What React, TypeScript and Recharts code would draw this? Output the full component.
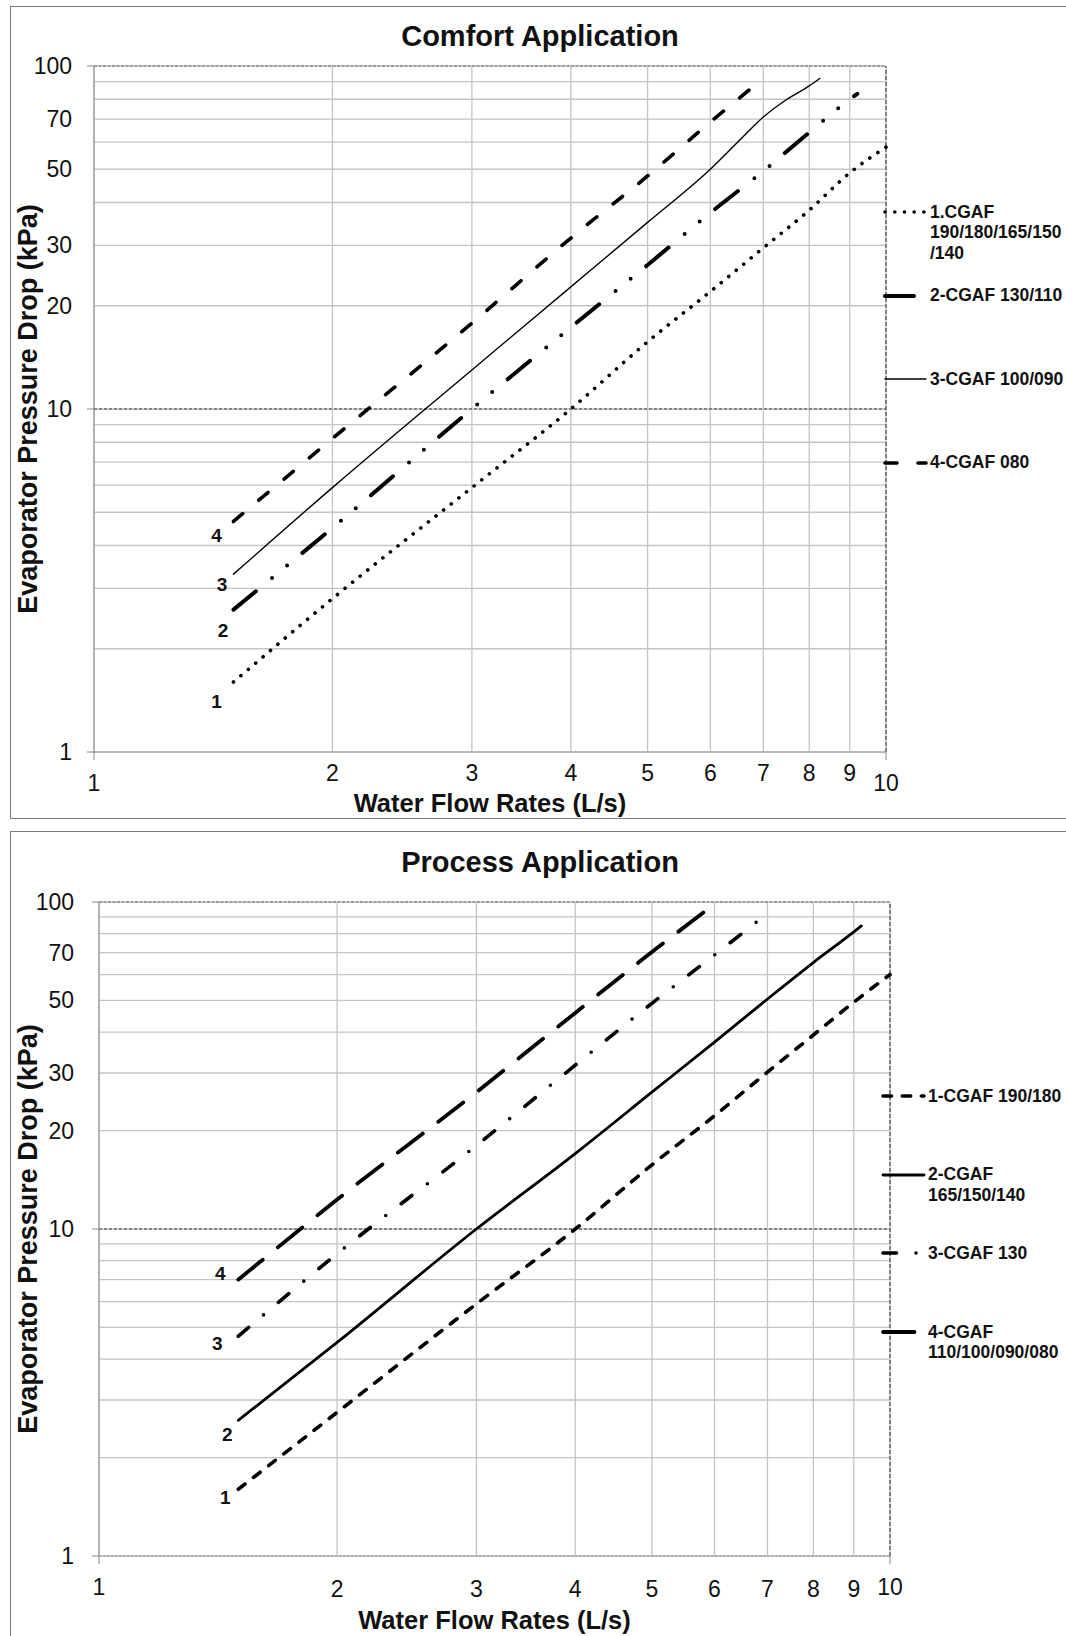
import React from "react";
import {
  LineChart,
  Line,
  XAxis,
  YAxis,
  CartesianGrid,
  ReferenceLine,
  Legend,
} from "recharts";

const FONT = '"Liberation Sans", Arial, sans-serif';

const flowTicks = [1, 2, 3, 4, 5, 6, 7, 8, 9, 10];
const dropTicks = [1, 2, 3, 4, 5, 6, 7, 8, 9, 10, 20, 30, 40, 50, 60, 70, 80, 90, 100];
const dropLabels = [1, 10, 20, 30, 50, 70, 100];

// Comfort application
const comfortFlow1 = [1.5, 2, 3, 4, 5, 6, 7, 8, 9, 10];
const comfortDrop1 = [1.6, 2.8, 5.9, 10, 15.7, 22, 29.5, 38, 48.8, 58];
const comfortFlow2 = [1.5, 2, 3, 4, 5, 6, 7, 8, 9, 9.2];
const comfortDrop2 = [2.6, 4.5, 10, 17.3, 26.3, 37.3, 49.4, 64, 80, 83];
const comfortFlow3 = [1.5, 2, 3, 4, 5, 6, 6.5, 7, 7.5, 8, 8.25];
const comfortDrop3 = [3.3, 5.9, 13, 22.7, 35, 50, 60, 71, 80, 87.5, 92];
const comfortFlow4 = [1.5, 2, 3, 4, 5, 6, 7];
const comfortDrop4 = [4.7, 8.2, 17.8, 31.5, 47.8, 68.6, 92];
const comfortNames = [
  "1.CGAF\n190/180/165/150\n/140",
  "2-CGAF 130/110",
  "3-CGAF 100/090",
  "4-CGAF 080",
];

// Process application
const processFlow1 = [1.5, 2, 3, 4, 5, 6, 7, 8, 9, 10];
const processDrop1 = [1.6, 2.75, 5.9, 10, 15.7, 22.2, 30.2, 39.2, 49.4, 60];
const processFlow2 = [1.5, 2, 3, 4, 5, 6, 7, 8, 9, 9.2];
const processDrop2 = [2.6, 4.5, 10, 17, 26.2, 37.3, 50.5, 65.3, 81, 84.5];
const processFlow3 = [1.5, 2, 3, 4, 5, 6, 6.95];
const processDrop3 = [4.7, 8.4, 18, 31.7, 49, 68.9, 91];
const processFlow4 = [1.5, 2, 3, 4, 5, 6.05];
const processDrop4 = [7, 12.3, 26.2, 45.8, 70.3, 100];
const processNames = [
  "1-CGAF 190/180",
  "2-CGAF\n165/150/140",
  "3-CGAF 130",
  "4-CGAF\n110/100/090/080",
];

interface Series {
  key: string;
  name: string;
  tag: string;
  data: { flow: number; drop: number }[];
  width: number;
  dash?: string;
  labelDx: number;
  labelDy: number;
}

const toPoints = (flow: number[], drop: number[]) =>
  flow.map((f, i) => ({ flow: f, drop: drop[i] }));

const comfortSeries: Series[] = [
  { key: "c1", name: comfortNames[0], tag: "1", data: toPoints(comfortFlow1, comfortDrop1), width: 3.6, dash: "0.1 9.6", labelDx: -17, labelDy: 20 },
  { key: "c2", name: comfortNames[1], tag: "2", data: toPoints(comfortFlow2, comfortDrop2), width: 4, dash: "29 21 0 19.5 0 20", labelDx: -10.5, labelDy: 21 },
  { key: "c3", name: comfortNames[2], tag: "3", data: toPoints(comfortFlow3, comfortDrop3), width: 1.4, labelDx: -11.5, labelDy: 10 },
  { key: "c4", name: comfortNames[3], tag: "4", data: toPoints(comfortFlow4, comfortDrop4), width: 3.6, dash: "12 21", labelDx: -17, labelDy: 14 },
];

const processSeries: Series[] = [
  { key: "p1", name: processNames[0], tag: "1", data: toPoints(processFlow1, processDrop1), width: 3.6, dash: "8.5 10.7", labelDx: -13, labelDy: 8 },
  { key: "p2", name: processNames[1], tag: "2", data: toPoints(processFlow2, processDrop2), width: 2.8, labelDx: -11, labelDy: 14 },
  { key: "p3", name: processNames[2], tag: "3", data: toPoints(processFlow3, processDrop3), width: 3.6, dash: "13.5 19.5 0 19.5", labelDx: -21, labelDy: 7 },
  { key: "p4", name: processNames[3], tag: "4", data: toPoints(processFlow4, processDrop4), width: 3.8, dash: "31.5 19.5", labelDx: -18, labelDy: -6 },
];

interface ChartSpec {
  title: string;
  titleY: number;
  top: number;
  height: number;
  margin: { top: number; right: number; bottom: number; left: number };
  yAxisWidth: number;
  yLabelGap: number;
  xMinorDy: number;
  xMajorDy: number;
  xTitleDy: number;
  legendLeft: number;
  legendTop: number;
  legendStep: number;
  series: Series[];
}

const DropTick = (props: any) => {
  const { x, y, payload, gap } = props;
  const v = payload.value;
  const axisX = x + gap;
  const major = v === 1 || v === 10 || v === 100;
  return (
    <g>
      {major && <line x1={axisX - 7} x2={axisX} y1={y} y2={y} stroke="#8a8a8a" strokeWidth={1} />}
      {dropLabels.includes(v) && (
        <text x={x} y={y} textAnchor="end" dominantBaseline="central" fontSize={23} fontFamily={FONT} fill="#111">
          {v}
        </text>
      )}
    </g>
  );
};

const FlowTick = (props: any) => {
  const { x, y, payload, minorDy, majorDy } = props;
  const v = payload.value;
  const major = v === 1 || v === 10;
  return (
    <g>
      {major && <line x1={x} x2={x} y1={y} y2={y + 8} stroke="#8a8a8a" strokeWidth={1} />}
      <text x={x} y={y + (major ? majorDy : minorDy)} textAnchor="middle" dominantBaseline="central" fontSize={23} fontFamily={FONT} fill="#111">
        {v}
      </text>
    </g>
  );
};

const LegendBlock = ({ series, step }: { series: Series[]; step: number }) => (
  <div style={{ position: "relative", width: 200, height: step * series.length }}>
    {series.map((s, i) => (
      <div key={s.key} style={{ position: "absolute", top: i * step, left: 0, display: "flex", alignItems: "flex-start" }}>
        <svg width={46} height={20} style={{ overflow: "visible", flex: "none" }}>
          <line x1={2} x2={43} y1={10} y2={10} stroke="#000" strokeWidth={s.width} strokeDasharray={s.dash} strokeLinecap="round" />
        </svg>
        <div style={{ marginLeft: 1, fontSize: 17.5, fontWeight: 700, lineHeight: "20.5px", whiteSpace: "pre", fontFamily: FONT, color: "#111", marginTop: -0.25 }}>
          {s.name}
        </div>
      </div>
    ))}
  </div>
);

const PressureChart = ({ spec }: { spec: ChartSpec }) => {
  const startLabel = (s: Series) => (p: any) =>
    p.index === 0 ? (
      <text key={`lbl-${s.key}`} x={p.cx + s.labelDx} y={p.cy + s.labelDy} textAnchor="middle" dominantBaseline="central" fontSize={19} fontWeight={700} fontFamily={FONT} fill="#111">
        {s.tag}
      </text>
    ) : (
      <g key={`dot-${s.key}-${p.index}`} />
    );

  return (
    <div style={{ position: "absolute", left: 0, top: spec.top, width: 1066, height: spec.height }}>
      <div style={{ position: "absolute", left: 0, top: spec.titleY - 17, width: 1080, textAlign: "center", fontFamily: FONT, fontWeight: 700, fontSize: 29, lineHeight: "34px", color: "#111" }}>
        {spec.title}
      </div>
      <LineChart width={1066} height={spec.height} margin={spec.margin}>
        <CartesianGrid stroke="#c4c4c4" strokeWidth={1.3} />
        <XAxis
          dataKey="flow"
          type="number"
          scale="log"
          domain={[1, 10]}
          ticks={flowTicks}
          interval={0}
          height={60}
          tickSize={0}
          tickMargin={0}
          tickLine={false}
          axisLine={{ stroke: "#8c8c8c", strokeDasharray: "3 1" }}
          tick={(p: any) => <FlowTick {...p} minorDy={spec.xMinorDy} majorDy={spec.xMajorDy} />}
          label={(p: any) => (
            <text x={p.viewBox.x + p.viewBox.width / 2} y={p.viewBox.y + spec.xTitleDy} textAnchor="middle" dominantBaseline="central" fontSize={25.5} fontWeight={700} fontFamily={FONT} fill="#111">
              Water Flow Rates (L/s)
            </text>
          )}
        />
        <YAxis
          dataKey="drop"
          type="number"
          scale="log"
          domain={[1, 100]}
          allowDataOverflow
          ticks={dropTicks}
          interval={0}
          width={spec.yAxisWidth}
          tickSize={0}
          tickMargin={spec.yLabelGap}
          tickLine={false}
          axisLine={{ stroke: "#8c8c8c" }}
          tick={(p: any) => <DropTick {...p} gap={spec.yLabelGap} />}
          label={(p: any) => {
            const cx = p.viewBox.x + 27.6;
            const cy = p.viewBox.y + p.viewBox.height / 2;
            return (
              <text x={cx} y={cy} transform={`rotate(-90, ${cx}, ${cy})`} textAnchor="middle" dominantBaseline="central" fontSize={27} fontWeight={700} fontFamily={FONT} fill="#111">
                Evaporator Pressure Drop (kPa)
              </text>
            );
          }}
        />
        <ReferenceLine y={100} stroke="#666" strokeDasharray="3 1.5" strokeWidth={1} />
        <ReferenceLine y={10} stroke="#333" strokeDasharray="3 2" strokeWidth={1} />
        <ReferenceLine x={10} stroke="#666" strokeDasharray="4 2" strokeWidth={1.5} />
        <Legend
          layout="vertical"
          align="center"
          verticalAlign="middle"
          wrapperStyle={{ left: spec.legendLeft, top: spec.legendTop, width: 200 }}
          content={() => <LegendBlock series={spec.series} step={spec.legendStep} />}
        />
        {spec.series.map((s) => (
          <Line
            key={s.key}
            data={s.data}
            dataKey="drop"
            name={s.name}
            type="monotone"
            stroke="#000"
            strokeWidth={s.width}
            strokeDasharray={s.dash}
            strokeLinecap="round"
            dot={startLabel(s)}
            activeDot={false}
            isAnimationActive={false}
          />
        ))}
      </LineChart>
    </div>
  );
};

const comfortSpec: ChartSpec = {
  title: "Comfort Application",
  titleY: 36,
  top: 0,
  height: 818,
  margin: { top: 66, right: 180, bottom: 6, left: 0 },
  yAxisWidth: 94,
  yLabelGap: 22,
  xMinorDy: 21,
  xMajorDy: 31,
  xTitleDy: 51,
  legendLeft: 883,
  legendTop: 202,
  legendStep: 83.5,
  series: comfortSeries,
};

const processSpec: ChartSpec = {
  title: "Process Application",
  titleY: 42,
  top: 820,
  height: 816,
  margin: { top: 82, right: 176, bottom: 20, left: 0 },
  yAxisWidth: 99,
  yLabelGap: 25,
  xMinorDy: 33,
  xMajorDy: 31,
  xTitleDy: 64,
  legendLeft: 881,
  legendTop: 266,
  legendStep: 78.7,
  series: processSeries,
};

export default function App() {
  return (
    <div style={{ position: "absolute", left: 0, top: 0, width: 1066, height: 1636, overflow: "hidden", background: "#fff", fontFamily: FONT }}>
      <div style={{ position: "absolute", left: 10, top: 6, width: 1100, height: 813, border: "1.5px solid #7a7a7a", boxSizing: "border-box" }} />
      <div style={{ position: "absolute", left: 10, top: 831, width: 1100, height: 900, border: "1.5px solid #7a7a7a", boxSizing: "border-box" }} />
      <PressureChart spec={comfortSpec} />
      <PressureChart spec={processSpec} />
    </div>
  );
}
